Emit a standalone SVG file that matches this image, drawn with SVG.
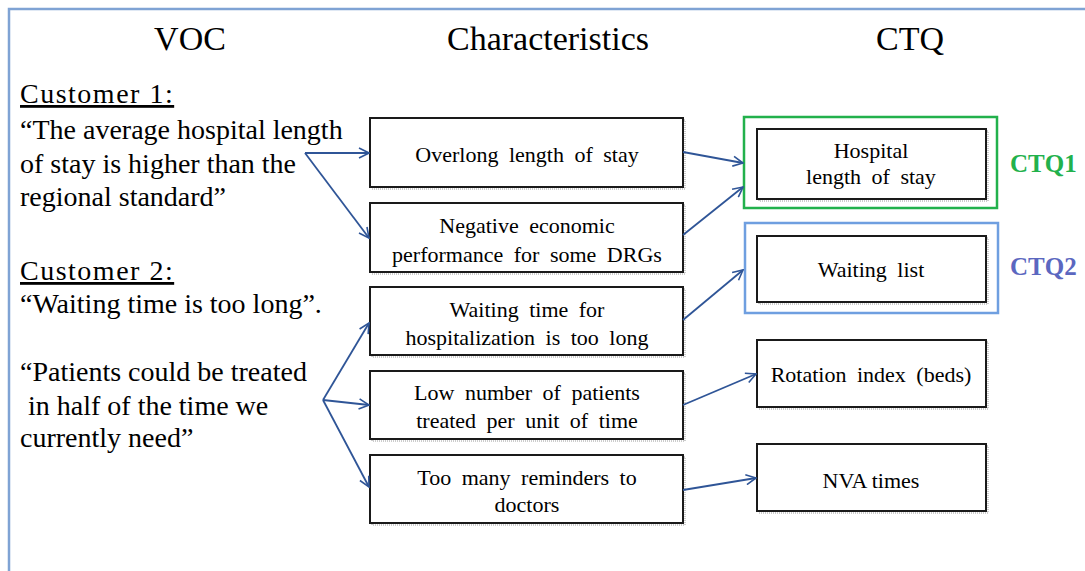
<svg xmlns="http://www.w3.org/2000/svg" width="1085" height="571" viewBox="0 0 1085 571">
  <defs>
    <marker id="arrow" viewBox="0 0 12 12" refX="11" refY="6" markerWidth="12" markerHeight="12" markerUnits="userSpaceOnUse" orient="auto">
      <polyline points="1,1 11,6 1,11" fill="none" stroke="#2f5597" stroke-width="1.6"/>
    </marker>
  </defs>

  <rect width="1085" height="571" fill="#fff"/>
  <!-- outer frame (continues past the right and bottom edges) -->
  <path d="M9 580 V9 H1090" fill="none" stroke="#7fa3d4" stroke-width="2.5"/>

  <!-- column headings -->
  <g id="headings" text-anchor="middle">
    <text x="190" y="50" font-family="Liberation Serif, Times New Roman, serif" font-size="34">VOC</text>
    <text x="548" y="50" font-family="Liberation Serif, Times New Roman, serif" font-size="34">Characteristics</text>
    <text x="910" y="50" font-family="Liberation Serif, Times New Roman, serif" font-size="34">CTQ</text>
  </g>

  <!-- voice of the customer -->
  <g id="voc-customer1">
    <text x="20" y="103" font-family="Liberation Serif, Times New Roman, serif" font-size="28" letter-spacing="1.5" text-decoration="underline">Customer 1:</text>
    <text x="20" y="139" font-family="Liberation Serif, Times New Roman, serif" font-size="28">“The average hospital length</text>
    <text x="20" y="173" font-family="Liberation Serif, Times New Roman, serif" font-size="28">of stay is higher than the</text>
    <text x="20" y="206" font-family="Liberation Serif, Times New Roman, serif" font-size="28">regional standard”</text>
  </g>
  <g id="voc-customer2">
    <text x="20" y="280" font-family="Liberation Serif, Times New Roman, serif" font-size="28" letter-spacing="1.5" text-decoration="underline">Customer 2:</text>
    <text x="20" y="313" font-family="Liberation Serif, Times New Roman, serif" font-size="28">“Waiting time is too long”.</text>
    <text x="20" y="381" font-family="Liberation Serif, Times New Roman, serif" font-size="28">“Patients could be treated</text>
    <text x="28" y="415" font-family="Liberation Serif, Times New Roman, serif" font-size="28">in half of the time we</text>
    <text x="20" y="447" font-family="Liberation Serif, Times New Roman, serif" font-size="28">currently need”</text>
  </g>

  <!-- characteristics -->
  <g id="char-overlong" text-anchor="middle">
    <rect x="372" y="120" width="313" height="69" fill="none" stroke="#bdbdbd" stroke-width="1.5" stroke-dasharray="1 1"/>
    <rect x="370" y="118" width="313" height="69" fill="#fff" stroke="#1a1a1a" stroke-width="2"/>
    <text x="527" y="162" font-family="Liberation Serif, Times New Roman, serif" font-size="22" word-spacing="5">Overlong length of stay</text>
  </g>
  <g id="char-economic" text-anchor="middle">
    <rect x="372" y="205" width="313" height="69" fill="none" stroke="#bdbdbd" stroke-width="1.5" stroke-dasharray="1 1"/>
    <rect x="370" y="203" width="313" height="69" fill="#fff" stroke="#1a1a1a" stroke-width="2"/>
    <text x="527" y="233" font-family="Liberation Serif, Times New Roman, serif" font-size="22" word-spacing="5">Negative economic</text>
    <text x="527" y="262" font-family="Liberation Serif, Times New Roman, serif" font-size="22" word-spacing="5">performance for some DRGs</text>
  </g>
  <g id="char-waiting" text-anchor="middle">
    <rect x="372" y="289" width="313" height="68" fill="none" stroke="#bdbdbd" stroke-width="1.5" stroke-dasharray="1 1"/>
    <rect x="370" y="287" width="313" height="68" fill="#fff" stroke="#1a1a1a" stroke-width="2"/>
    <text x="527" y="317" font-family="Liberation Serif, Times New Roman, serif" font-size="22" word-spacing="5">Waiting time for</text>
    <text x="527" y="345" font-family="Liberation Serif, Times New Roman, serif" font-size="22" word-spacing="5">hospitalization is too long</text>
  </g>
  <g id="char-patients" text-anchor="middle">
    <rect x="372" y="373" width="313" height="68" fill="none" stroke="#bdbdbd" stroke-width="1.5" stroke-dasharray="1 1"/>
    <rect x="370" y="371" width="313" height="68" fill="#fff" stroke="#1a1a1a" stroke-width="2"/>
    <text x="527" y="400" font-family="Liberation Serif, Times New Roman, serif" font-size="22" word-spacing="5">Low number of patients</text>
    <text x="527" y="428" font-family="Liberation Serif, Times New Roman, serif" font-size="22" word-spacing="5">treated per unit of time</text>
  </g>
  <g id="char-reminders" text-anchor="middle">
    <rect x="372" y="457" width="313" height="68" fill="none" stroke="#bdbdbd" stroke-width="1.5" stroke-dasharray="1 1"/>
    <rect x="370" y="455" width="313" height="68" fill="#fff" stroke="#1a1a1a" stroke-width="2"/>
    <text x="527" y="485" font-family="Liberation Serif, Times New Roman, serif" font-size="22" word-spacing="5">Too many reminders to</text>
    <text x="527" y="512" font-family="Liberation Serif, Times New Roman, serif" font-size="22" word-spacing="5">doctors</text>
  </g>

  <!-- critical to quality -->
  <g id="ctq1" text-anchor="middle">
    <rect x="744" y="117" width="253" height="91" fill="none" stroke="#22b14c" stroke-width="2.5"/>
    <rect x="759" y="131" width="229" height="70" fill="none" stroke="#bdbdbd" stroke-width="1.5" stroke-dasharray="1 1"/>
    <rect x="757" y="129" width="229" height="70" fill="#fff" stroke="#1a1a1a" stroke-width="2"/>
    <text x="871" y="158" font-family="Liberation Serif, Times New Roman, serif" font-size="22" word-spacing="5">Hospital</text>
    <text x="871" y="184" font-family="Liberation Serif, Times New Roman, serif" font-size="22" word-spacing="5">length of stay</text>
    <text x="1010" y="172" font-family="Liberation Serif, Times New Roman, serif" font-size="25" font-weight="bold" text-anchor="start" fill="#22b14c">CTQ1</text>
  </g>
  <g id="ctq2" text-anchor="middle">
    <rect x="745" y="223" width="253" height="90" fill="none" stroke="#6f9fe0" stroke-width="2.5"/>
    <rect x="759" y="238" width="229" height="66" fill="none" stroke="#bdbdbd" stroke-width="1.5" stroke-dasharray="1 1"/>
    <rect x="757" y="236" width="229" height="66" fill="#fff" stroke="#1a1a1a" stroke-width="2"/>
    <text x="871" y="277" font-family="Liberation Serif, Times New Roman, serif" font-size="22" word-spacing="5">Waiting list</text>
    <text x="1010" y="275" font-family="Liberation Serif, Times New Roman, serif" font-size="25" font-weight="bold" text-anchor="start" fill="#5b67c0">CTQ2</text>
  </g>
  <g id="ctq-rotation" text-anchor="middle">
    <rect x="759" y="342" width="229" height="67" fill="none" stroke="#bdbdbd" stroke-width="1.5" stroke-dasharray="1 1"/>
    <rect x="757" y="340" width="229" height="67" fill="#fff" stroke="#1a1a1a" stroke-width="2"/>
    <text x="871" y="382" font-family="Liberation Serif, Times New Roman, serif" font-size="22" word-spacing="5">Rotation index (beds)</text>
  </g>
  <g id="ctq-nva" text-anchor="middle">
    <rect x="759" y="446" width="229" height="67" fill="none" stroke="#bdbdbd" stroke-width="1.5" stroke-dasharray="1 1"/>
    <rect x="757" y="444" width="229" height="67" fill="#fff" stroke="#1a1a1a" stroke-width="2"/>
    <text x="871" y="488" font-family="Liberation Serif, Times New Roman, serif" font-size="22">NVA times</text>
  </g>

  <!-- connectors -->
  <g id="connectors" fill="none" stroke="#2f5597" stroke-width="1.8" marker-end="url(#arrow)">
    <path d="M305 153 H369"/>
    <path d="M305 153 L369 238"/>
    <path d="M323 400 L369 323"/>
    <path d="M323 400 L369 405"/>
    <path d="M323 400 L369 487"/>
    <path d="M683 152 L743 163"/>
    <path d="M683 235 L743 187"/>
    <path d="M683 320 L743 270"/>
    <path d="M683 405 L756 374"/>
    <path d="M683 490 L756 478"/>
  </g>
</svg>
